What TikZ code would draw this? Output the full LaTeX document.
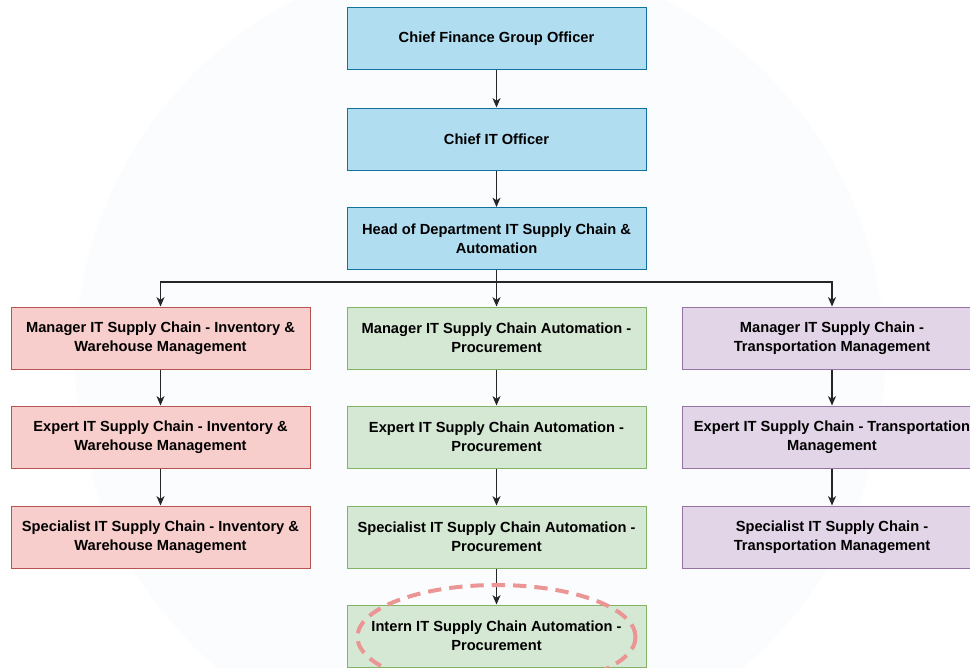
\documentclass[tikz,border=0pt]{standalone}
\usepackage{fontspec}
\setmainfont{Liberation Sans}
\usetikzlibrary{arrows.meta}

\definecolor{blueFill}{HTML}{B1DDF0}
\definecolor{blueLine}{HTML}{10739E}
\definecolor{redFill}{HTML}{F8CECC}
\definecolor{redLine}{HTML}{B85450}
\definecolor{greenFill}{HTML}{D5E8D4}
\definecolor{greenLine}{HTML}{82B366}
\definecolor{purpleFill}{HTML}{E1D5E7}
\definecolor{purpleLine}{HTML}{9673A6}
\definecolor{markPink}{HTML}{EB9595}
\definecolor{wmark}{HTML}{FAFCFE}

\begin{document}
\begin{tikzpicture}[x=0.75pt, y=-0.75pt]
        % Column and row formulae (pixels of the chart)
        \pgfmathsetmacro{\colL}{160.5}
        \pgfmathsetmacro{\colM}{496.5}
        \pgfmathsetmacro{\colR}{832}

        % Box looks
        \tikzset{
            orgbox/.style={draw, line width=0.75pt, minimum width=224.25pt,
                minimum height=46.5pt, align=center, inner sep=2pt,
                font=\fontsize{11}{14.25}\selectfont\bfseries},
            bluebox/.style={orgbox, fill=blueFill, draw=blueLine},
            redbox/.style={orgbox, fill=redFill, draw=redLine},
            greenbox/.style={orgbox, fill=greenFill, draw=greenLine},
            purplebox/.style={orgbox, fill=purpleFill, draw=purpleLine},
            conn/.style={draw=black!85, line width=0.9pt,
                -{Stealth[length=7pt, width=6pt, inset=2pt]}},
        }

        \useasboundingbox (0, 0) rectangle (970, 667);

        % Faint watermark behind the chart
        \fill[wmark] (480, 360) circle [radius=303.75pt];

        % Top of the chart
        \node[bluebox] (cfgo) at (\colM, 39) {Chief Finance Group Officer};
        \node[bluebox] (cito) at (\colM, 139) {Chief IT Officer};
        \node[bluebox] (head) at (\colM, 238.5) {Head of Department IT Supply Chain \&\\Automation};

        % Inventory and warehouse column
        \node[redbox] (mgrInv) at (\colL, 338) {Manager IT Supply Chain - Inventory \&\\Warehouse Management};
        \node[redbox] (expInv) at (\colL, 437) {Expert IT Supply Chain - Inventory \&\\Warehouse Management};
        \node[redbox] (spcInv) at (\colL, 537) {Specialist IT Supply Chain - Inventory \&\\Warehouse Management};

        % Procurement column
        \node[greenbox] (mgrProc) at (\colM, 338) {Manager IT Supply Chain Automation -\\Procurement};
        \node[greenbox] (expProc) at (\colM, 437) {Expert IT Supply Chain Automation -\\Procurement};
        \node[greenbox] (spcProc) at (\colM, 537) {Specialist IT Supply Chain Automation -\\Procurement};
        \node[greenbox] (intProc) at (\colM, 636) {Intern IT Supply Chain Automation -\\Procurement};

        % Transportation column
        \node[purplebox] (mgrTrans) at (\colR, 338) {Manager IT Supply Chain -\\Transportation Management};
        \node[purplebox] (expTrans) at (\colR, 437) {Expert IT Supply Chain - Transportation\\Management};
        \node[purplebox] (spcTrans) at (\colR, 537) {Specialist IT Supply Chain -\\Transportation Management};

        % Connectors
        \coordinate (split) at (\colM, 282);
        \draw[conn] (cfgo) -- (cito);
        \draw[conn] (cito) -- (head);
        \draw[conn] (head) -- (mgrProc);
        \draw[conn] (split) -| (mgrInv);
        \draw[conn] (split) -| (mgrTrans);

        \draw[conn] (mgrInv) -- (expInv);
        \draw[conn] (expInv) -- (spcInv);
        \draw[conn] (mgrProc) -- (expProc);
        \draw[conn] (expProc) -- (spcProc);
        \draw[conn] (spcProc) -- (intProc);
        \draw[conn] (mgrTrans) -- (expTrans);
        \draw[conn] (expTrans) -- (spcTrans);

        % Highlight round the intern
        \draw[markPink, line width=3pt, dash pattern=on 10pt off 6pt]
            (\colM, 637) ellipse [x radius=104.25pt, y radius=39pt];
\end{tikzpicture}
\end{document}
